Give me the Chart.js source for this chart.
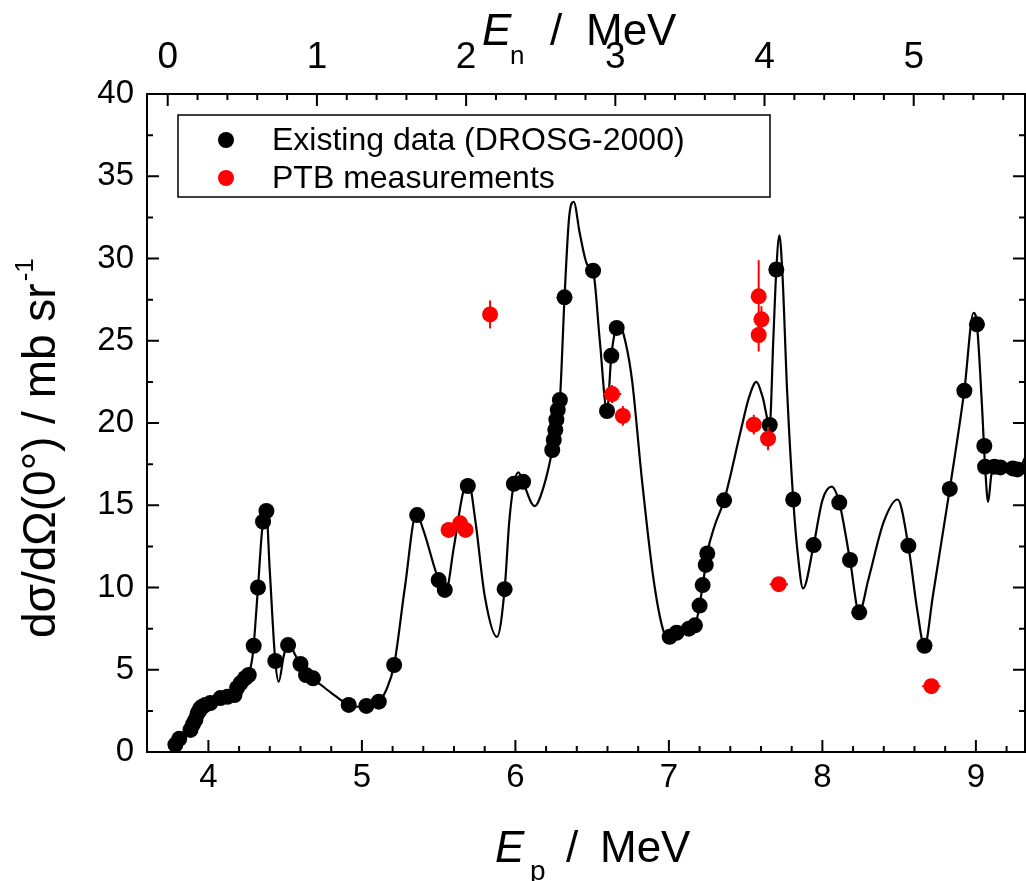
<!DOCTYPE html>
<html>
<head>
<meta charset="utf-8">
<script src="https://cdn.jsdelivr.net/npm/chart.js@4.4.1/dist/chart.umd.min.js"></script>
<style>
  html, body { margin: 0; padding: 0; background: #fff; }
  canvas { display: block; }
</style>
</head>
<body>
<canvas id="xsChart" width="1026" height="881"></canvas>
<script>
// Existing data (DROSG-2000): proton energy / MeV and d(sigma)/d(Omega) / mb sr-1
const drosgEp = [3.785, 3.81, 3.883, 3.90, 3.915, 3.93, 3.94, 3.948, 3.96, 3.98, 4.013, 4.078, 4.124, 4.17, 4.187, 4.21, 4.24, 4.263,
  4.295, 4.323, 4.356, 4.378, 4.436, 4.519, 4.60, 4.636, 4.682, 4.914, 5.029, 5.11, 5.21, 5.36, 5.50, 5.54, 5.69,
  5.93, 5.99, 6.05, 6.24, 6.25, 6.26, 6.267, 6.276, 6.29, 6.32, 6.506, 6.597, 6.625, 6.66,
  7.005, 7.05, 7.13, 7.17, 7.20, 7.22, 7.24, 7.25, 7.36, 7.657, 7.70, 7.81, 7.943, 8.11, 8.18, 8.24,
  8.56, 8.665, 8.83, 8.925, 9.007, 9.055, 9.06, 9.12, 9.16, 9.24, 9.27];
const drosgXs = [0.45, 0.8, 1.34, 1.7, 1.95, 2.35, 2.5, 2.67, 2.75, 2.86, 2.98, 3.28, 3.36, 3.46, 3.89, 4.19, 4.5, 4.68,
  6.46, 10.0, 14.0, 14.65, 5.53, 6.5, 5.35, 4.68, 4.48, 2.86, 2.8, 3.06, 5.29, 14.4, 10.45, 9.85, 16.17,
  9.9, 16.3, 16.43, 18.36, 18.97, 19.58, 20.2, 20.8, 21.4, 27.64, 29.26, 20.73, 24.09, 25.78,
  7.0, 7.25, 7.5, 7.7, 8.9, 10.15, 11.37, 12.07, 15.3, 19.88, 29.33, 15.35, 12.58, 15.16, 11.67, 8.49,
  12.54, 6.46, 15.99, 21.96, 26.0, 18.6, 17.34, 17.34, 17.3, 17.24, 17.18];

// smooth curve through the existing data
const curveEp = [3.775, 3.796, 3.813, 3.85, 3.883, 3.915, 3.948, 3.98, 4.013, 4.078, 4.124, 4.165, 4.21, 4.263, 4.29, 4.323, 4.35, 4.375,
  4.40, 4.436, 4.458, 4.49, 4.523, 4.56, 4.60, 4.636, 4.682, 4.80, 4.914, 4.97, 5.029, 5.11, 5.16, 5.21, 5.28, 5.355,
  5.40, 5.50, 5.545, 5.60, 5.66, 5.695, 5.74, 5.80, 5.88, 5.93, 5.96, 5.99, 6.02, 6.05, 6.125, 6.18, 6.24, 6.29,
  6.32, 6.35, 6.38, 6.42, 6.47, 6.506, 6.55, 6.597, 6.625, 6.66, 6.68, 6.72, 6.76, 6.825, 6.90, 6.96, 6.99,
  7.05, 7.13, 7.17, 7.20, 7.22, 7.24, 7.25, 7.30, 7.36, 7.47, 7.52, 7.57, 7.61, 7.657, 7.68, 7.70, 7.72, 7.74,
  7.77, 7.81, 7.84, 7.874, 7.943, 8.00, 8.06, 8.11, 8.18, 8.24, 8.30, 8.40, 8.49, 8.56, 8.62, 8.665, 8.72,
  8.83, 8.925, 8.985, 9.007, 9.04, 9.06, 9.08, 9.10, 9.12, 9.16, 9.24, 9.27, 9.30, 9.33];
const curveXs = [0.1, 0.5, 0.85, 1.1, 1.4, 1.95, 2.6, 2.86, 3.0, 3.25, 3.36, 3.5, 4.2, 4.75, 6.0, 10.0, 13.5, 14.9,
  11.0, 5.5, 4.27, 5.8, 6.8, 6.0, 5.3, 4.75, 4.45, 3.6, 2.86, 2.75, 2.8, 3.06, 3.8, 5.29, 10.0, 14.5,
  13.5, 10.45, 9.7, 12.5, 15.8, 16.4, 14.0, 9.5, 7.0, 9.9, 14.0, 16.3, 17.0, 16.4, 14.95, 16.0, 18.36, 21.4,
  27.6, 32.5, 33.45, 31.5, 29.6, 29.26, 25.0, 20.73, 24.09, 25.8, 25.9, 24.8, 22.6, 16.5, 10.5, 7.5, 7.0,
  7.2, 7.5, 7.7, 8.9, 10.15, 11.37, 12.07, 13.8, 15.3, 19.6, 21.5, 22.5, 21.6, 19.9, 25.0, 29.33, 31.4, 29.0,
  22.0, 15.35, 12.0, 9.94, 12.58, 15.3, 16.13, 15.16, 11.67, 8.49, 10.5, 14.0, 15.35, 12.54, 8.5, 6.4, 9.5,
  16.0, 22.0, 26.7, 26.0, 21.0, 17.34, 15.2, 16.8, 17.34, 17.3, 17.24, 17.18, 17.5, 18.1];

// PTB measurements with uncertainties
const ptbEp = [5.565, 5.64, 5.675, 5.835, 6.63, 6.70, 7.553, 7.585, 7.603, 7.585, 7.646, 7.716, 8.71];
const ptbXs = [13.5, 13.9, 13.5, 26.6, 21.76, 20.43, 19.9, 27.7, 26.3, 25.35, 19.05, 10.2, 4.0];
const ptbErrXs = [0.3, 0.3, 0.3, 0.85, 0.55, 0.6, 0.6, 2.2, 0.8, 1.0, 0.7, 0.3, 0.2];
const ptbErrEp = [0.05, 0.05, 0.05, 0, 0.06, 0.03, 0.03, 0, 0, 0.03, 0.03, 0.06, 0.06];

// axis ticks
const epTicks = [4, 5, 6, 7, 8, 9];
const xsTicks = [0, 5, 10, 15, 20, 25, 30, 35, 40];
const enTicks = [0, 1, 2, 3, 4, 5];

// neutron energy axis on top: Ep = enOffset + enSlope * En
const enOffset = 3.735, enSlope = 0.972;
const epMin = 3.6, epMax = 9.32;

const font = "'Liberation Sans', Arial, sans-serif";
const narrow = "'Liberation Sans Narrow', 'Arial Narrow', " + font;

const toPoints = (xs, ys) => xs.map((x, i) => ({x: x, y: ys[i]}));

// error bars drawn under the PTB points
const errorBars = {
  id: 'errorBars',
  beforeDatasetDraw(chart, args) {
    const ds = chart.data.datasets[args.index];
    if (!ds.errY) return;
    const {ctx, scales: {x, y}} = chart;
    ctx.save();
    ctx.strokeStyle = ds.backgroundColor;
    ctx.lineWidth = 2;
    ds.data.forEach((p, i) => {
      ctx.beginPath();
      ctx.moveTo(x.getPixelForValue(p.x), y.getPixelForValue(p.y - ds.errY[i]));
      ctx.lineTo(x.getPixelForValue(p.x), y.getPixelForValue(p.y + ds.errY[i]));
      if (ds.errX[i] > 0) {
        ctx.moveTo(x.getPixelForValue(p.x - ds.errX[i]), y.getPixelForValue(p.y));
        ctx.lineTo(x.getPixelForValue(p.x + ds.errX[i]), y.getPixelForValue(p.y));
      }
      ctx.stroke();
    });
    ctx.restore();
  }
};

// frame with inward ticks, legend box and axis titles
const frame = {
  id: 'frame',
  afterDraw(chart) {
    const {ctx, chartArea: a, scales: {x, y, xTop}} = chart;
    ctx.save();
    ctx.strokeStyle = '#000';
    ctx.lineWidth = 2;
    ctx.strokeRect(a.left, a.top, a.right - a.left, a.bottom - a.top);

    ctx.beginPath();
    // bottom axis: major every 1 MeV, minor every 0.2
    for (let v = 3.6; v <= epMax + 1e-6; v += 0.2) {
      const px = x.getPixelForValue(v);
      const major = Math.abs(v - Math.round(v)) < 1e-6;
      ctx.moveTo(px, a.bottom);
      ctx.lineTo(px, a.bottom - (major ? 12 : 6));
    }
    // top axis: neutron energy, major every 1 MeV, minor every 0.2
    for (let e = 0; e <= xTop.max + 1e-6; e += 0.2) {
      const px = xTop.getPixelForValue(e);
      const major = Math.abs(e - Math.round(e)) < 1e-6;
      ctx.moveTo(px, a.top);
      ctx.lineTo(px, a.top + (major ? 12 : 6));
    }
    // left and right: major every 5, minor every 2.5
    for (let v = 0; v <= 40; v += 2.5) {
      const py = y.getPixelForValue(v);
      const major = v % 5 === 0;
      ctx.moveTo(a.left, py);
      ctx.lineTo(a.left + (major ? 12 : 6), py);
      ctx.moveTo(a.right, py);
      ctx.lineTo(a.right - (major ? 12 : 6), py);
    }
    ctx.stroke();

    // legend
    const lx = a.left + 31, ly = a.top + 21;
    ctx.lineWidth = 1.5;
    ctx.strokeRect(lx, ly, 592, 82);
    ctx.font = '32px ' + font;
    ctx.textBaseline = 'middle';
    chart.data.datasets.filter(d => d.inLegend).forEach((d, i) => {
      const cy = ly + 25 + i * 38;
      ctx.fillStyle = d.backgroundColor;
      ctx.beginPath();
      ctx.arc(lx + 48, cy, 8, 0, Math.PI * 2);
      ctx.fill();
      ctx.fillStyle = '#000';
      ctx.fillText(d.label, lx + 94, cy + 1);
    });

    // bottom title: E_p / MeV
    ctx.fillStyle = '#000';
    ctx.textBaseline = 'alphabetic';
    ctx.font = 'italic 44px ' + font;
    ctx.fillText('E', 495, 862);
    ctx.font = '28px ' + font;
    ctx.fillText('p', 530, 880);
    ctx.font = '44px ' + font;
    ctx.fillText('/', 566, 862);
    ctx.fillText('MeV', 600, 862);

    // top title: E_n / MeV
    ctx.font = 'italic 44px ' + narrow;
    ctx.fillText('E', 482, 45);
    ctx.font = '26px ' + narrow;
    ctx.fillText('n', 510, 64);
    ctx.font = '44px ' + narrow;
    ctx.fillText('/', 550, 45);
    ctx.fillText('MeV', 586, 45);

    // left title, rotated
    ctx.translate(55, 638);
    ctx.rotate(-Math.PI / 2);
    const yTitle = 'd\u03c3/d\u03a9(0\u00b0) / mb sr';
    ctx.font = '46px ' + font;
    ctx.fillText(yTitle, 0, 0);
    const w = ctx.measureText(yTitle).width;
    ctx.font = '26px ' + font;
    ctx.fillText('-1', w + 2, -22);
    ctx.restore();
  }
};

new Chart(document.getElementById('xsChart'), {
  type: 'scatter',
  data: {
    datasets: [
      {
        label: 'Existing data (DROSG-2000)',
        inLegend: true,
        data: toPoints(drosgEp, drosgXs),
        backgroundColor: '#000',
        borderColor: '#000',
        pointRadius: 8,
        pointBorderWidth: 0,
        order: 2
      },
      {
        label: 'PTB measurements',
        inLegend: true,
        data: toPoints(ptbEp, ptbXs),
        errY: ptbErrXs,
        errX: ptbErrEp,
        backgroundColor: '#ff0000',
        borderColor: '#ff0000',
        pointRadius: 8,
        pointBorderWidth: 0,
        order: 1
      },
      {
        label: 'curve',
        data: toPoints(curveEp, curveXs),
        showLine: true,
        borderColor: '#000',
        borderWidth: 2.2,
        pointRadius: 0,
        cubicInterpolationMode: 'monotone',
        order: 3
      }
    ]
  },
  options: {
    responsive: false,
    animation: false,
    layout: {autoPadding: false, padding: {right: 1, left: 0, top: 0, bottom: 0}},
    plugins: {legend: {display: false}, tooltip: {enabled: false}},
    scales: {
      x: {
        type: 'linear', position: 'bottom', min: epMin, max: epMax,
        grid: {display: false, drawTicks: false}, border: {display: false},
        ticks: {font: {family: font, size: 33}, color: '#000', padding: 6, includeBounds: false},
        afterBuildTicks: s => { s.ticks = epTicks.map(v => ({value: v})); },
        afterFit: s => { s.height = 129; s.paddingLeft = 0; s.paddingRight = 0; }
      },
      xTop: {
        type: 'linear', position: 'top',
        min: (epMin - enOffset) / enSlope, max: (epMax - enOffset) / enSlope,
        grid: {display: false, drawTicks: false}, border: {display: false},
        ticks: {font: {family: narrow, size: 37}, color: '#000', padding: 14, includeBounds: false},
        afterBuildTicks: s => { s.ticks = enTicks.map(v => ({value: v})); },
        afterFit: s => { s.height = 94; s.paddingLeft = 0; s.paddingRight = 0; }
      },
      y: {
        type: 'linear', position: 'left', min: 0, max: 40,
        grid: {display: false, drawTicks: false}, border: {display: false},
        ticks: {font: {family: font, size: 33}, color: '#000', padding: 13, includeBounds: false},
        afterBuildTicks: s => { s.ticks = xsTicks.map(v => ({value: v})); },
        afterFit: s => { s.width = 147; s.paddingTop = 0; s.paddingBottom = 0; }
      }
    }
  },
  plugins: [errorBars, frame]
});
</script>
</body>
</html>
